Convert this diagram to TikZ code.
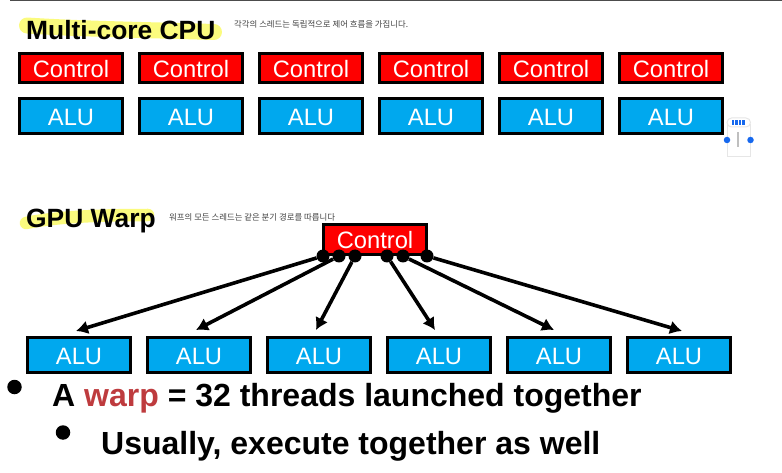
\documentclass[tikz,border=0pt]{standalone}
\usepackage{fontspec}
\setmainfont{Liberation Sans}
\newfontfamily\krfont{Noto Sans CJK KR}
\definecolor{ctrlred}{HTML}{FE0000}
\definecolor{alublue}{HTML}{00A8EE}
\definecolor{hiyellow}{HTML}{FBFB7E}
\definecolor{warpred}{HTML}{BE3B3E}
\definecolor{wblue}{HTML}{1668EE}
\definecolor{wgray}{HTML}{E6E6E6}
\usetikzlibrary{arrows.meta}
\tikzset{
  box/.style={draw=black,line width=2.6pt,minimum width=103.5pt,minimum height=29.5pt,inner sep=0pt,text=white,font=\fontsize{23.7}{26}\selectfont,text depth=0pt},
  ctrl/.style={box,fill=ctrlred,text height=18.8pt},
  alu/.style={box,fill=alublue,minimum height=35.5pt,text height=19.2pt},
  title/.style={anchor=base west,inner sep=0pt,font=\fontsize{26.4}{30}\selectfont\bfseries},
  note/.style={anchor=base west,inner sep=0pt,text=black!75,font=\fontsize{8.4}{10}\selectfont\krfont},
  body/.style={anchor=base west,inner sep=0pt,font=\fontsize{32}{36}\selectfont\bfseries},
  hub/.style={circle,fill=black,minimum size=13pt,inner sep=0pt},
  bul/.style={circle,fill=black,minimum size=14.5pt,inner sep=0pt},
  link/.style={-{Latex[length=12pt,width=14pt]},line width=3.6pt,black},
  hi/.style={hiyellow,line cap=round,line join=round},
  wdot/.style={circle,fill=wblue,minimum size=6.5pt,inner sep=0pt}
}
\begin{document}
\begin{tikzpicture}[x=1pt,y=-1pt]
\useasboundingbox (0,0) rectangle (782,473);
\draw[black!70,line width=1.5pt] (10,0.5) -- (782,0.5);
% highlights
\draw[hi,line width=16pt] (27,25.5) .. controls (80,29) and (150,30) .. (214,32);
\draw[hi,line width=12.5pt] (26,223) .. controls (60,216) and (110,215) .. (148,215);
% titles
\node[title] (t1) at (26,40) {Multi-core CPU};
\node[title] (t2) at (26,227.5) {GPU Warp};
\node[note] (n1) at (234,27.5) {각각의 스레드는 독립적으로 제어 흐름을 가집니다.};
\node[note] (n2) at (169,221) {워프의 모든 스레드는 같은 분기 경로를 따릅니다};
% top row
\foreach \i in {0,...,5}{
  \node[ctrl] (c\i) at ({71+120*\i},68) {Control};
  \node[alu] (u\i) at ({71+120*\i},116) {ALU};
}
% widget
\draw[wgray,line width=1pt] (727,124) -- (727,157) -- (750.5,157) -- (750.5,124);
\draw[wgray,line width=1pt,fill=white,rounded corners=4.5pt] (727,118) rectangle (750.5,127);
\foreach \x in {733,736.5,740,743.5}{\draw[wblue,line width=2.2pt] (\x,120.5) -- (\x,125);}
\draw[black!25,line width=1.6pt] (738,132) -- (738,147);
\node[wdot] (w1) at (727,140) {};
\node[wdot] (w2) at (750.5,140) {};
% GPU warp
\node[ctrl] (gc) at (375,239.5) {Control};
\foreach \i in {0,...,5}{
  \node[alu] (a\i) at ({79+120*\i},355) {ALU};
}
\node[hub] (h0) at (323,256) {};
\node[hub] (h1) at (339,256) {};
\node[hub] (h2) at (355,256) {};
\node[hub] (h3) at (387,256) {};
\node[hub] (h4) at (403,256) {};
\node[hub] (h5) at (427,256) {};
\coordinate (e0) at (76,331);
\coordinate (e1) at (196,330);
\coordinate (e2) at (316,330);
\coordinate (e3) at (435,330);
\coordinate (e4) at (554,330);
\coordinate (e5) at (682,331);
\foreach \i in {0,...,5}{\draw[link] (h\i) -- (e\i);}
% bullets
\node[bul] (b1) at (14.5,387) {};
\node[bul] (b2) at (63,432.5) {};
\node[body] (l1) at (52,406) {A \textcolor{warpred}{warp} = 32 threads launched together};
\node[body] (l2) at (101,454) {Usually, execute together as well};
\end{tikzpicture}
\end{document}
